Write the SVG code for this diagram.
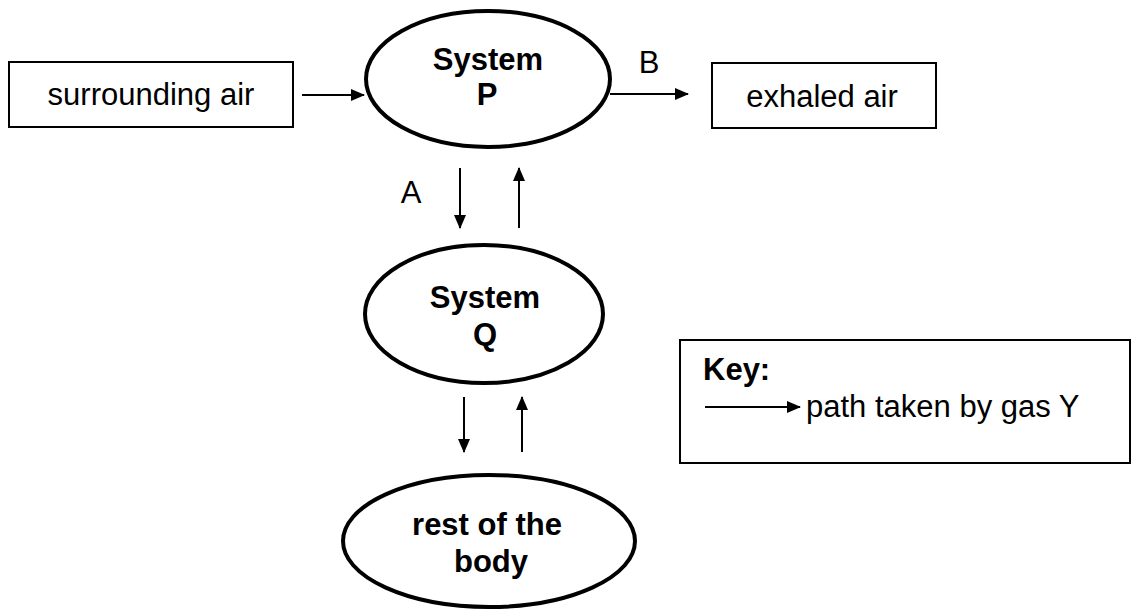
<svg xmlns="http://www.w3.org/2000/svg" width="1133" height="610" viewBox="0 0 1133 610">
<defs>
<marker id="ah" markerUnits="userSpaceOnUse" markerWidth="14" markerHeight="12" refX="13" refY="6" orient="auto">
<path d="M0,0 L14,6 L0,12 Z" fill="#000"/>
</marker>
<style>
.t{font-family:"Liberation Sans",Arial,sans-serif;font-size:31px;fill:#000}
.b{font-weight:bold}
.box{fill:#fff;stroke:#000;stroke-width:2}
.ell{fill:#fff;stroke:#000;stroke-width:4}
.arr{stroke:#000;stroke-width:2;fill:none;marker-end:url(#ah)}
</style>
</defs>
<rect width="1133" height="610" fill="#fff"/>
<g id="surrounding-air">
<rect class="box" x="9" y="62" width="284" height="65"/>
<text class="t" x="151" y="105" text-anchor="middle">surrounding air</text>
</g>
<g id="system-p">
<ellipse class="ell" cx="488" cy="79" rx="122" ry="68"/>
<text class="t b" x="488" y="70" text-anchor="middle">System</text>
<text class="t b" x="487" y="105" text-anchor="middle">P</text>
</g>
<g id="exhaled-air">
<rect class="box" x="712" y="63" width="224" height="65"/>
<text class="t" x="822" y="107" text-anchor="middle">exhaled air</text>
</g>
<g id="system-q">
<ellipse class="ell" cx="484" cy="314" rx="119" ry="69"/>
<text class="t b" x="485" y="308" text-anchor="middle">System</text>
<text class="t b" x="485" y="345" text-anchor="middle">Q</text>
</g>
<g id="rest-of-body">
<ellipse class="ell" cx="489" cy="541" rx="146" ry="66"/>
<text class="t b" x="487" y="535" text-anchor="middle">rest of the</text>
<text class="t b" x="491" y="572" text-anchor="middle">body</text>
</g>
<g id="key">
<rect class="box" x="680" y="340" width="450" height="123"/>
<text class="t b" x="703" y="380">Key:</text>
<line class="arr" x1="705" y1="407" x2="800" y2="407"/>
<text class="t" x="806" y="417">path taken by gas Y</text>
</g>
<g id="connectors">
<line class="arr" x1="302" y1="95" x2="364" y2="95"/>
<line class="arr" x1="610" y1="94" x2="688" y2="94"/>
<line class="arr" x1="460" y1="168" x2="460" y2="228"/>
<line class="arr" x1="519" y1="228" x2="519" y2="168"/>
<line class="arr" x1="464" y1="397" x2="464" y2="452"/>
<line class="arr" x1="522" y1="452" x2="522" y2="397"/>
<text class="t" x="411" y="203" text-anchor="middle">A</text>
<text class="t" x="649" y="73" text-anchor="middle">B</text>
</g>
</svg>
